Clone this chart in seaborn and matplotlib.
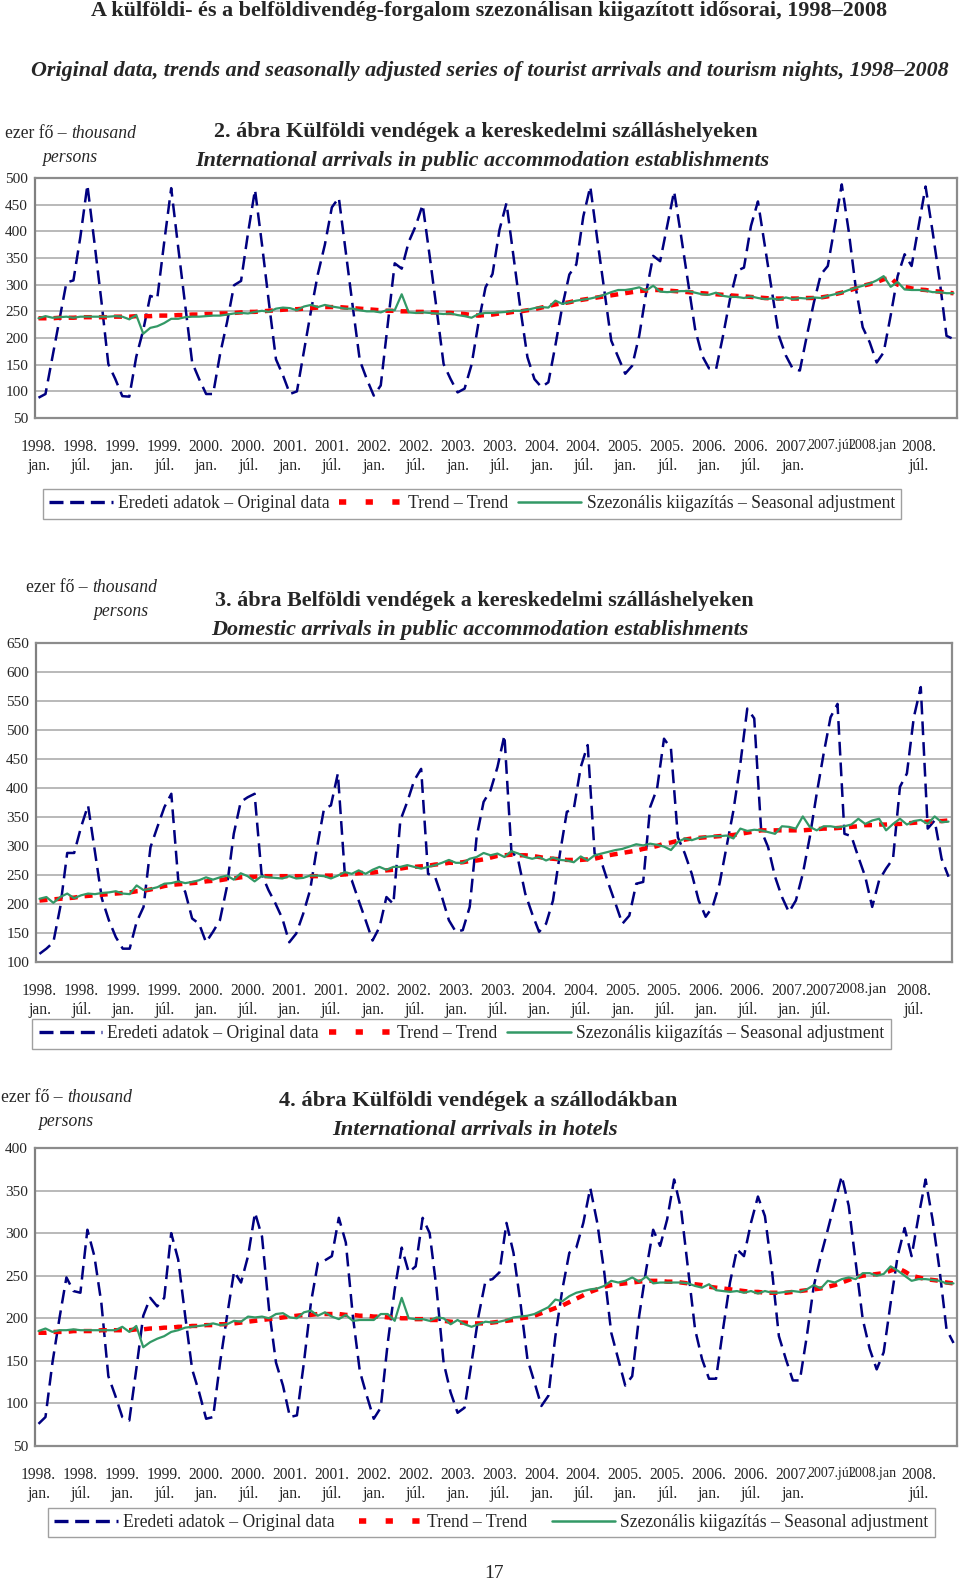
import matplotlib
matplotlib.use("Agg")
import matplotlib.pyplot as plt
from matplotlib.lines import Line2D
import numpy as np
import seaborn as sns

# monthly data, 1998 jan .. 2008 dec (thousand persons)
months = np.arange(132)

int_public_orig = [
    88, 95, 165, 234, 304, 308, 390, 487, 380, 270, 151, 123,
    91, 90, 165, 215, 279, 274, 380, 481, 370, 262, 154, 123,
    95, 95, 170, 230, 299, 307, 397, 478, 375, 265, 160, 130,
    95, 100, 175, 250, 320, 375, 445, 463, 360, 258, 158, 123,
    92, 111, 225, 340, 330, 380, 410, 450, 354, 254, 151, 123,
    98, 105, 150, 229, 295, 320, 403, 453, 354, 254, 164, 123,
    108, 117, 186, 260, 319, 338, 428, 484, 385, 290, 195, 164,
    133, 148, 204, 285, 354, 344, 410, 475, 391, 304, 217, 167,
    143, 141, 204, 273, 326, 332, 410, 456, 372, 288, 204, 167,
    142, 139, 204, 266, 319, 335, 410, 488, 400, 295, 220, 192,
    154, 173, 242, 316, 357, 335, 410, 484, 400, 310, 204, 198,
]
int_public_trend = [
    237, 237, 237, 238, 238, 238, 239, 239, 239, 239, 239, 240,
    240, 240, 241, 241, 241, 242, 242, 242, 243, 243, 244, 244,
    245, 245, 246, 246, 247, 248, 249, 249, 250, 251, 252, 253,
    254, 254, 255, 256, 257, 258, 258, 258, 257, 256, 255, 254,
    253, 252, 251, 251, 250, 250, 249, 249, 248, 248, 247, 247,
    246, 245, 243, 242, 243, 244, 246, 247, 249, 250, 252, 254,
    257, 260, 263, 265, 267, 270, 272, 274, 276, 278, 280, 282,
    284, 286, 288, 289, 290, 290, 289, 288, 287, 286, 285, 284,
    283, 282, 281, 280, 279, 278, 277, 276, 275, 274, 274, 274,
    274, 274, 275, 275, 276, 278, 282, 285, 289, 293, 298, 301,
    305, 310, 313, 300, 296, 293, 291, 290, 288, 287, 285, 284,
]
int_public_sa = [
    237, 241, 238, 239, 240, 238, 240, 240, 240, 240, 240, 241,
    240, 235, 243, 208, 219, 222, 228, 236, 236, 239, 240, 240,
    241, 242, 242, 244, 246, 247, 246, 249, 251, 249, 255, 257,
    256, 252, 259, 262, 258, 262, 259, 257, 255, 255, 252, 250,
    250, 248, 253, 252, 282, 248, 247, 248, 247, 246, 245, 246,
    243, 241, 238, 245, 247, 247, 248, 249, 251, 251, 253, 256,
    258, 257, 270, 264, 267, 270, 272, 274, 277, 281, 286, 290,
    290, 292, 295, 289, 298, 287, 286, 287, 288, 288, 285, 282,
    281, 285, 279, 277, 277, 275, 278, 275, 273, 274, 272, 276,
    273, 275, 274, 276, 275, 279, 282, 285, 290, 294, 298, 302,
    308, 316, 296, 305, 291, 290, 290, 289, 286, 286, 284, 284,
]

dom_public_orig = [
    114, 123, 134, 195, 288, 288, 333, 370, 290, 209, 172, 143,
    123, 123, 169, 195, 298, 333, 367, 390, 241, 221, 175, 166,
    134, 152, 172, 229, 321, 376, 384, 390, 252, 224, 201, 175,
    134, 149, 183, 224, 298, 364, 370, 425, 252, 241, 206, 172,
    137, 160, 212, 200, 344, 376, 413, 433, 252, 247, 212, 172,
    152, 155, 195, 316, 376, 396, 436, 491, 292, 275, 218, 183,
    152, 166, 206, 287, 359, 364, 436, 474, 287, 272, 235, 201,
    166, 180, 235, 238, 367, 399, 485, 468, 315, 287, 252, 206,
    178, 195, 235, 298, 361, 442, 537, 520, 327, 298, 247, 212,
    186, 206, 252, 315, 390, 459, 522, 545, 321, 317, 281, 247,
    195, 241, 261, 278, 402, 425, 522, 574, 330, 344, 278, 247,
]
dom_public_trend = [
    206, 207, 208, 209, 210, 211, 213, 214, 215, 216, 217, 218,
    219, 220, 222, 223, 225, 228, 231, 233, 234, 235, 236, 237,
    239, 240, 241, 243, 244, 246, 247, 247, 248, 248, 248, 248,
    248, 248, 248, 248, 248, 249, 249, 250, 251, 252, 253, 254,
    254, 256, 258, 259, 261, 263, 264, 265, 266, 268, 269, 271,
    271, 272, 274, 275, 277, 280, 283, 284, 285, 284, 284, 283,
    281, 279, 278, 277, 276, 276, 276, 277, 278, 281, 284, 286,
    288, 290, 292, 295, 297, 300, 304, 306, 309, 311, 313, 314,
    315, 316, 317, 318, 319, 321, 323, 325, 327, 327, 327, 327,
    327, 327, 327, 328, 329, 330, 330, 331, 332, 333, 334, 336,
    336, 337, 337, 338, 338, 339, 340, 341, 342, 343, 343, 344,
]
dom_public_sa = [
    209, 212, 202, 212, 218, 210, 215, 218, 217, 219, 220, 222,
    218, 217, 232, 224, 226, 229, 235, 236, 239, 236, 238, 241,
    246, 242, 246, 249, 242, 253, 248, 239, 248, 246, 245, 244,
    248, 244, 245, 249, 249, 248, 244, 249, 255, 252, 258, 252,
    259, 264, 259, 264, 264, 267, 264, 261, 264, 267, 271, 276,
    271, 271, 278, 281, 288, 284, 287, 281, 291, 287, 281, 278,
    281, 275, 280, 276, 275, 272, 282, 275, 284, 287, 290, 293,
    295, 299, 303, 301, 304, 302, 299, 293, 307, 313, 310, 314,
    316, 317, 317, 318, 313, 330, 326, 328, 327, 324, 321, 334,
    333, 330, 351, 333, 327, 334, 334, 332, 334, 337, 347, 338,
    344, 347, 327, 338, 347, 337, 343, 345, 338, 351, 341, 342,
]

int_hotel_orig = [
    76, 84, 148, 200, 248, 232, 230, 304, 273, 218, 132, 109,
    84, 80, 140, 203, 224, 214, 224, 300, 269, 203, 140, 113,
    82, 84, 148, 203, 255, 242, 273, 324, 296, 211, 148, 121,
    84, 86, 148, 218, 265, 268, 273, 318, 289, 203, 138, 109,
    82, 95, 171, 234, 283, 254, 261, 318, 300, 234, 148, 113,
    89, 95, 148, 203, 244, 246, 254, 312, 277, 218, 152, 125,
    97, 109, 179, 234, 277, 283, 312, 353, 312, 254, 183, 152,
    121, 132, 203, 257, 304, 285, 316, 363, 328, 257, 187, 152,
    129, 129, 187, 242, 281, 273, 312, 343, 320, 257, 179, 152,
    127, 127, 179, 238, 273, 304, 336, 367, 332, 265, 199, 164,
    140, 160, 218, 273, 306, 273, 320, 363, 316, 257, 187, 171,
]
int_hotel_trend = [
    183, 183, 184, 184, 184, 185, 185, 185, 185, 186, 186, 186,
    186, 186, 187, 187, 188, 188, 189, 189, 190, 190, 191, 191,
    192, 192, 193, 193, 194, 195, 196, 197, 198, 199, 200, 201,
    202, 203, 204, 204, 205, 205, 205, 205, 204, 204, 203, 203,
    202, 202, 201, 201, 200, 200, 199, 199, 198, 198, 197, 196,
    195, 195, 194, 194, 194, 195, 196, 197, 198, 200, 201, 203,
    206, 209, 212, 215, 219, 223, 227, 231, 234, 237, 239, 240,
    241, 242, 243, 244, 244, 244, 243, 243, 242, 241, 240, 239,
    237, 236, 235, 234, 233, 232, 231, 231, 230, 230, 230, 230,
    231, 232, 233, 234, 235, 237, 239, 242, 245, 248, 250, 251,
    252, 253, 256, 259, 255, 250, 248, 246, 245, 244, 242, 241,
]
int_hotel_sa = [
    185, 188, 184, 186, 186, 187, 186, 186, 186, 186, 186, 186,
    190, 184, 191, 166, 172, 176, 179, 184, 186, 189, 190, 191,
    192, 194, 192, 193, 197, 196, 202, 201, 202, 200, 205, 206,
    201, 200, 207, 209, 203, 207, 202, 199, 204, 197, 198, 198,
    198, 205, 205, 197, 224, 200, 199, 199, 197, 201, 200, 193,
    198, 193, 190, 193, 196, 195, 196, 198, 201, 202, 203, 205,
    209, 213, 222, 220, 226, 230, 232, 234, 235, 238, 244, 242,
    244, 248, 243, 249, 241, 242, 242, 242, 242, 241, 238, 236,
    240, 233, 232, 231, 232, 230, 232, 229, 232, 230, 230, 231,
    232, 231, 234, 239, 235, 244, 242, 246, 248, 246, 253, 253,
    250, 252, 261, 256, 250, 244, 246, 246, 245, 244, 241, 241,
]

tick_pos = list(range(0, 109, 6))
base_labels = []
for y in range(1998, 2007):
    base_labels += [f"{y}.\njan.", f"{y}.\njúl."]
base_labels.append("2007.\njan.")

legend_labels = ["Eredeti adatok – Original data", "Trend – Trend",
                 "Szezonális kiigazítás – Seasonal adjustment"]

W, H = 960, 1584
SERIF = "Liberation Serif"
NAVY = "#000080"
RED = "#ff0000"
GREEN = "#339966"


def fx(x):
    return x / W


def fy(y):
    return 1 - y / H


def make_panel(fig, box, orig, trend, sa, ylim, extra_ticks, legend_box, colspace):
    left, top, right, bottom = box
    ax = fig.add_axes([fx(left), fy(bottom), (right - left) / W, (bottom - top) / H])
    sns.lineplot(x=months, y=orig, ax=ax, color=NAVY, linewidth=1.8,
                 linestyle=(0, (5.5, 2.8)))
    sns.lineplot(x=months, y=trend, ax=ax, color=RED, linewidth=3.2,
                 linestyle=(0, (1.8, 1.6)))
    sns.lineplot(x=months, y=sa, ax=ax, color=GREEN, linewidth=1.6)
    ax.set_xlim(-0.5, 131.5)
    ax.set_ylim(*ylim)
    ax.set_yticks(np.arange(ylim[0], ylim[1] + 1, 50))
    ax.grid(axis="y", color="#a6a6a6", linewidth=1.1)
    ax.grid(axis="x", visible=False)
    ax.set_facecolor("white")
    for s in ax.spines.values():
        s.set_color("#8c8c8c")
        s.set_linewidth(1.6)
    ax.spines["left"].set_color("#808080")
    pos = tick_pos + [p for p, _, _ in extra_ticks]
    labs = base_labels + [l for _, l, _ in extra_ticks]
    ax.set_xticks(pos)
    ax.set_xticklabels(labs, fontfamily=SERIF, fontsize=11.2, linespacing=1.3,
                       va="top")
    # the crowded labels at the end of the axis
    n_base = len(base_labels)
    for t, (_, _, size) in zip(ax.get_xticklabels()[n_base:], extra_ticks):
        t.set_fontsize(size)
    ax.tick_params(axis="x", length=0, pad=15)
    ax.tick_params(axis="y", length=3, color="#808080", pad=2, labelsize=11)
    for t in ax.get_yticklabels():
        t.set_fontfamily(SERIF)
    ax.set_xlabel("")
    ax.set_ylabel("")
    handles = [
        Line2D([], [], color=NAVY, linewidth=2.4, linestyle=(0, (4.2, 2.0))),
        Line2D([], [], color=RED, linewidth=4, linestyle=(0, (1.3, 3.5))),
        Line2D([], [], color=GREEN, linewidth=1.8),
    ]
    lx0, ly0, lx1, ly1 = legend_box
    ax.legend(handles, legend_labels, loc="center",
              bbox_to_anchor=(fx((lx0 + lx1) / 2), fy((ly0 + ly1) / 2)),
              bbox_transform=fig.transFigure, ncol=3, frameon=True,
              fancybox=False, edgecolor="#a0a0a0", framealpha=1,
              prop={"family": SERIF, "size": 12.7}, handlelength=3.6,
              handletextpad=0.3, columnspacing=colspace, borderpad=0.35)
    return ax


def unit_text(fig, x1, y1, x2, y2):
    t = fig.text(fx(x1), fy(y1), "ezer fő – ", fontfamily=SERIF, fontsize=12.7,
                 va="center", ha="left")
    fig.canvas.draw()
    bb = t.get_window_extent()
    fig.text(bb.x1 / W, fy(y1), "thousand", fontfamily=SERIF, fontsize=12.7,
             style="italic", va="center", ha="left")
    fig.text(fx(x2), fy(y2), "persons", fontfamily=SERIF, fontsize=12.7,
             style="italic", va="center", ha="left")


def main():
    sns.set_theme(style="white")
    plt.rcParams["font.family"] = [SERIF, "DejaVu Serif"]
    fig = plt.figure(figsize=(W / 100, H / 100), dpi=100)
    fig.patch.set_facecolor("white")

    fig.text(fx(489), fy(11), "A külföldi- és a belföldivendég-forgalom szezonálisan kiigazított idősorai, 1998–2008",
             ha="center", va="center", fontsize=15.9, fontweight="bold", fontfamily=SERIF)
    fig.text(fx(490), fy(71), "Original data, trends and seasonally adjusted series of tourist arrivals and tourism nights, 1998–2008",
             ha="center", va="center", fontsize=15.8, fontweight="bold", style="italic", fontfamily=SERIF)

    ext13 = [(113.3, "2007.júl", 10), (119.4, "2008.jan", 10), (126, "2008.\njúl.", 11.2)]
    ext2 = [(112.6, "2007\njúl.", 11.2), (118.4, "2008.jan", 10.6), (126, "2008.\njúl.", 11.2)]

    # 2. ábra
    make_panel(fig, (35, 178, 957, 418), int_public_orig, int_public_trend,
               int_public_sa, (50, 500), ext13, (40, 489, 904, 519), 0.55)
    unit_text(fig, 5, 134, 42, 158)
    fig.text(fx(486), fy(132), "2. ábra Külföldi vendégek a kereskedelmi szálláshelyeken",
             ha="center", va="center", fontsize=15.9, fontweight="bold", fontfamily=SERIF)
    fig.text(fx(482), fy(161), "International arrivals in public accommodation establishments",
             ha="center", va="center", fontsize=15.9, fontweight="bold", style="italic", fontfamily=SERIF)

    # 3. ábra
    make_panel(fig, (36, 643, 952, 962), dom_public_orig, dom_public_trend,
               dom_public_sa, (100, 650), ext2, (30, 1019, 893, 1049), 0.55)
    unit_text(fig, 26, 588, 93, 612)
    fig.text(fx(484), fy(601), "3. ábra Belföldi vendégek a kereskedelmi szálláshelyeken",
             ha="center", va="center", fontsize=15.9, fontweight="bold", fontfamily=SERIF)
    fig.text(fx(480), fy(630), "Domestic arrivals in public accommodation establishments",
             ha="center", va="center", fontsize=15.9, fontweight="bold", style="italic", fontfamily=SERIF)

    # 4. ábra
    make_panel(fig, (35, 1148, 957, 1446), int_hotel_orig, int_hotel_trend,
               int_hotel_sa, (50, 400), ext13, (43, 1506, 940, 1539), 1.35)
    unit_text(fig, 1, 1098, 38, 1122)
    fig.text(fx(478), fy(1101), "4. ábra Külföldi vendégek a szállodákban",
             ha="center", va="center", fontsize=16.2, fontweight="bold", fontfamily=SERIF)
    fig.text(fx(475), fy(1130), "International arrivals in hotels",
             ha="center", va="center", fontsize=16.2, fontweight="bold", style="italic", fontfamily=SERIF)

    fig.text(fx(494), fy(1573), "17", ha="center", va="center", fontsize=14, fontfamily=SERIF)

    fig.savefig("out.png", dpi=100, facecolor="white")


if __name__ == "__main__":
    main()
